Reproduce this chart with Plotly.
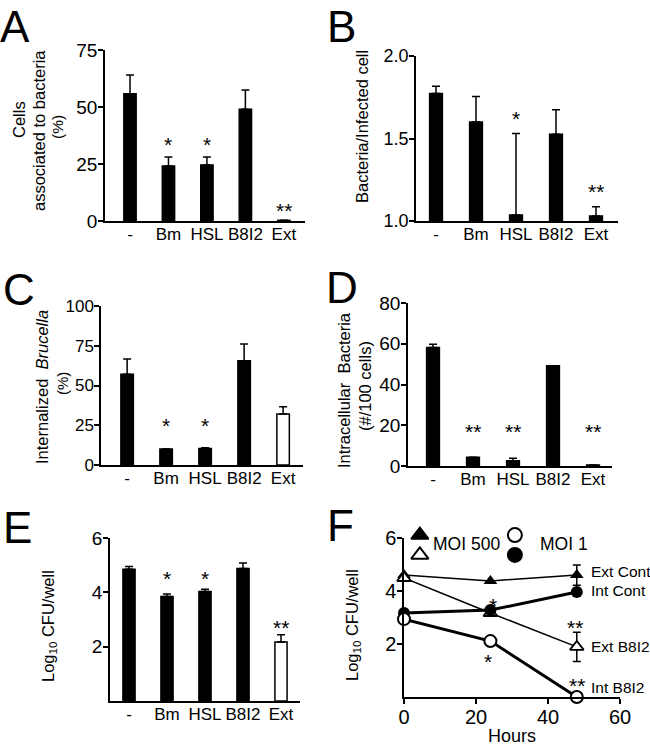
import plotly.graph_objects as go

# ---------------- data ----------------
categories = ["-", "Bm", "HSL", "B8I2", "Ext"]

a_values = [55.8, 24.1, 24.6, 49.0, 0.3]
a_errors = [8.2, 4.0, 3.5, 8.5, 0.0]
a_stars = ["", "*", "*", "", "**"]

b_values = [1.772, 1.600, 1.036, 1.526, 1.030]
b_errors = [0.045, 0.154, 0.494, 0.149, 0.057]
b_stars = ["", "", "*", "", "**"]

c_values = [57.0, 10.0, 10.4, 65.6, 32.1]
c_errors = [9.6, 0.0, 0.4, 10.5, 4.6]
c_stars = ["", "*", "*", "", ""]

d_values = [58.2, 4.3, 2.6, 49.2, 0.5]
d_errors = [1.6, 0.0, 1.2, 0.0, 0.0]
d_stars = ["", "**", "**", "", "**"]

e_values = [4.85, 3.85, 4.03, 4.88, 2.17]
e_errors = [0.10, 0.09, 0.08, 0.20, 0.27]
e_stars = ["", "*", "*", "", "**"]

f_hours = [0, 24, 48]
f_ext_cont = [4.60, 4.38, 4.60]
f_ext_cont_err = [0.0, 0.0, 0.38]
f_int_cont = [3.17, 3.28, 3.96]
f_ext_b8i2 = [4.49, 3.17, 1.89]
f_ext_b8i2_err = [0.0, 0.08, 0.55]
f_int_b8i2 = [2.94, 2.11, 0.0]
f_series_labels = ["Ext Cont", "Int Cont", "Ext B8I2", "Int B8I2"]

# ---------------- layout helpers ----------------
W, H = 650, 746
FONT = "Liberation Sans, Arial, Helvetica, sans-serif"


def px(x):
    return x / W


def py(y):
    return 1 - y / H


fig = go.Figure()
annotations = []


def axis_common(**kw):
    d = dict(showgrid=False, zeroline=False, showline=True, linecolor="black",
             linewidth=1.5, tickcolor="black", tickwidth=1.5, ticklen=5,
             automargin=False, ticklabelstandoff=-3,
             tickfont=dict(family=FONT, size=17, color="black"), fixedrange=True)
    d.update(kw)
    return d


panels = {
    "A": dict(i=1, xd=(105, 305), yd=(50, 221), xr=(-0.65, 4.55), yr=(0, 75),
              yt=[0, 25, 50, 75], vals=a_values, errs=a_errors, stars=a_stars,
              star_y=[0, 35.6, 35.6, 0, 7.0], white=[], tfs=19),
    "B": dict(i=2, xd=(416, 618), yd=(56, 221), xr=(-0.5, 4.55), yr=(1.0, 2.0),
              yt=[1.0, 1.5, 2.0], vals=b_values, errs=b_errors, stars=b_stars,
              star_y=[0, 0, 1.65, 0, 1.21], white=[], tfs=18, fmt=".1f"),
    "C": dict(i=3, xd=(101, 303), yd=(306, 465), xr=(-0.67, 4.51), yr=(0, 100),
              yt=[0, 25, 50, 75, 100], vals=c_values, errs=c_errors, stars=c_stars,
              star_y=[0, 28.3, 28.3, 0, 0], white=[4], tfs=17),
    "D": dict(i=4, xd=(408, 612), yd=(303, 466), xr=(-0.625, 4.475), yr=(0, 80),
              yt=[0, 20, 40, 60, 80], vals=d_values, errs=d_errors, stars=d_stars,
              star_y=[0, 19.3, 19.3, 0, 19.3], white=[], tfs=19),
    "E": dict(i=5, xd=(110, 300), yd=(538, 701), xr=(-0.5, 4.5), yr=(0, 6),
              yt=[2, 4, 6], vals=e_values, errs=e_errors, stars=e_stars,
              star_y=[0, 4.7, 4.7, 0, 2.9], white=[4], tfs=19),
}

for name, p in panels.items():
    i = p["i"]
    xa = "x" if i == 1 else f"x{i}"
    ya = "y" if i == 1 else f"y{i}"
    colors = ["white" if k in p["white"] else "black" for k in range(len(categories))]
    fig.add_trace(go.Bar(
        x=categories, y=p["vals"], xaxis=xa, yaxis=ya, width=0.32,
        marker=dict(color=colors, line=dict(color="black", width=1.5)),
        error_y=dict(type="data", array=p["errs"], arrayminus=[0] * 5, symmetric=False,
                     color="black", thickness=1.5, width=4),
        showlegend=False, hoverinfo="skip"))
    xkey = "xaxis" if i == 1 else f"xaxis{i}"
    ykey = "yaxis" if i == 1 else f"yaxis{i}"
    fig.layout[xkey] = axis_common(
        domain=[px(p["xd"][0]), px(p["xd"][1])], anchor=ya, range=list(p["xr"]),
        type="category", ticks="", tickfont=dict(family=FONT, size=17, color="black"))
    yk = axis_common(domain=[py(p["yd"][1]), py(p["yd"][0])], anchor=xa,
                     range=list(p["yr"]), tickvals=p["yt"], ticks="outside",
                     tickfont=dict(family=FONT, size=p["tfs"], color="black"))
    if "fmt" in p:
        yk["tickformat"] = p["fmt"]
    fig.layout[ykey] = yk
    for k, s in enumerate(p["stars"]):
        if s:
            annotations.append(dict(x=categories[k], y=p["star_y"][k], xref=xa, yref=ya,
                                    text=s, showarrow=False, yshift=-5,
                                    font=dict(family=FONT, size=21, color="black")))

# ---------------- panel F ----------------
fx = (404, 620)
fy = (538, 697)
fig.layout["xaxis6"] = axis_common(domain=[px(fx[0]), px(fx[1])], anchor="y6",
                                   range=[0, 60], tickvals=[0, 20, 40, 60], ticks="outside",
                                   ticklabelstandoff=-4,
                                   tickfont=dict(family=FONT, size=20, color="black"))
fig.layout["yaxis6"] = axis_common(domain=[py(fy[1]), py(fy[0])], anchor="x6",
                                   range=[0, 6], tickvals=[2, 4, 6], ticks="outside",
                                   tickfont=dict(family=FONT, size=20, color="black"))
# invisible overlay axes (same scale, taller) to hold the legend glyphs above the plot top
ftop = 518
fig.layout["xaxis7"] = dict(domain=[px(fx[0]), px(fx[1])], anchor="y7", range=[0, 60],
                            visible=False, fixedrange=True)
fig.layout["yaxis7"] = dict(domain=[py(fy[1]), py(ftop)], anchor="x7",
                            range=[0, 6 * (fy[1] - ftop) / (fy[1] - fy[0])],
                            visible=False, fixedrange=True)

fig.add_trace(go.Scatter(x=f_hours, y=f_ext_cont, xaxis="x6", yaxis="y6", mode="lines+markers",
                         line=dict(color="black", width=1.5),
                         marker=dict(symbol="triangle-up", size=12, color="black"),
                         error_y=dict(type="data", array=f_ext_cont_err, color="black",
                                      thickness=1.5, width=4),
                         cliponaxis=False, showlegend=False, hoverinfo="skip"))
fig.add_trace(go.Scatter(x=f_hours, y=f_ext_b8i2, xaxis="x6", yaxis="y6", mode="lines+markers",
                         line=dict(color="black", width=1.5),
                         marker=dict(symbol="triangle-up", size=12, color="white",
                                     line=dict(color="black", width=1.8)),
                         error_y=dict(type="data", array=f_ext_b8i2_err, color="black",
                                      thickness=1.5, width=4),
                         cliponaxis=False, showlegend=False, hoverinfo="skip"))
fig.add_trace(go.Scatter(x=f_hours, y=f_int_cont, xaxis="x6", yaxis="y6", mode="lines+markers",
                         line=dict(color="black", width=3),
                         marker=dict(symbol="circle", size=12, color="black"),
                         cliponaxis=False, showlegend=False, hoverinfo="skip"))
fig.add_trace(go.Scatter(x=f_hours, y=f_int_b8i2, xaxis="x6", yaxis="y6", mode="lines+markers",
                         line=dict(color="black", width=3),
                         marker=dict(symbol="circle", size=12, color="white",
                                     line=dict(color="black", width=2)),
                         cliponaxis=False, showlegend=False, hoverinfo="skip"))

# legend glyphs, one trace each
legend_glyphs = [
    (4.4, 6.11, "triangle-up", "black", 15),
    (4.4, 5.36, "triangle-up", "white", 15),
    (30.8, 6.11, "circle", "white", 14),
    (30.8, 5.36, "circle", "black", 14),
]
for gx, gy, sym, col, sz in legend_glyphs:
    fig.add_trace(go.Scatter(x=[gx], y=[gy], xaxis="x7", yaxis="y7", mode="markers",
                             marker=dict(symbol=sym, size=sz, color=col,
                                         line=dict(color="black", width=2)),
                             cliponaxis=False, showlegend=False, hoverinfo="skip"))


def ftext(x, y, t, size=16, anchor="left", ys=0):
    annotations.append(dict(x=x, y=y, xref="x6", yref="y6", text=t, showarrow=False,
                            xanchor=anchor, yshift=ys,
                            font=dict(family=FONT, size=size, color="black")))


ftext(7.6, 5.77, "MOI 500", size=17.5)
ftext(37.2, 5.77, "MOI 1", size=17.5)
label_y = [4.74, 4.03, 1.89, 0.34]
for lab, yv in zip(f_series_labels, label_y):
    ftext(51.3, yv, lab, size=15.5)
ftext(47.5, 2.83, "**", size=21, anchor="center", ys=-5)
ftext(48.0, 0.64, "**", size=21, anchor="center", ys=-5)
ftext(24.7, 3.66, "*", size=21, anchor="center", ys=-5)
ftext(23.3, 1.51, "*", size=21, anchor="center", ys=-5)


# ---------------- panel letters & axis titles ----------------
def ptext(x, y, t, size=17, angle=0, xanchor="center", yanchor="middle"):
    annotations.append(dict(x=px(x), y=py(y), xref="paper", yref="paper", text=t,
                            showarrow=False, textangle=angle, xanchor=xanchor,
                            yanchor=yanchor,
                            font=dict(family=FONT, size=size, color="black")))


for letter, (lx, ly) in {"A": (-2, 0), "B": (325, 0), "C": (1, 263), "D": (324, 261),
                         "E": (1, 501), "F": (325, 499)}.items():
    ptext(lx, ly, letter, size=44, xanchor="left", yanchor="top")

TS = 16.5
ptext(19, 120, "Cells", TS, -90)
ptext(39, 131, "associated to bacteria", TS, -90)
ptext(57, 127, "(%)", 15.5, -90)
ptext(362, 127, "Bacteria/Infected cell", TS, -90)
ptext(42, 387, "Internalized  <i>Brucella</i>", TS, -90)
ptext(62, 384, "(%)", 15, -90)
ptext(344, 390, "Intracellular  Bacteria", TS, -90)
ptext(365, 386, "(#/100 cells)", TS, -90)
ptext(49, 626, "Log<sub>10</sub> CFU/well", TS, -90)
ptext(353, 625, "Log<sub>10</sub> CFU/well", TS, -90)
ptext(512, 736, "Hours", 18)

fig.update_layout(template="none", width=W, height=H, margin=dict(l=0, r=0, t=0, b=0, pad=0),
                  paper_bgcolor="white", plot_bgcolor="rgba(0,0,0,0)",
                  annotations=annotations, bargap=0.2,
                  font=dict(family=FONT, color="black"))

fig.write_html("out.html", config={"displayModeBar": False},
               post_script="document.body.style.margin='0';document.body.style.overflow='hidden';")
